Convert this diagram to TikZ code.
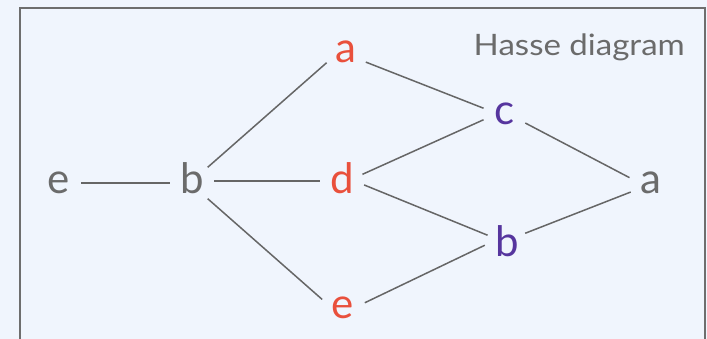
\documentclass[tikz,border=0pt]{standalone}
\usepackage{fontspec}
\setmainfont{Lato}
\newfontfamily\titlefont[FakeStretch=1.12]{Lato}
\definecolor{paper}{HTML}{F0F5FD}
\definecolor{framegray}{HTML}{6E6E6E}
\definecolor{linegray}{HTML}{666666}
\definecolor{txtgray}{HTML}{6B6B6B}
\definecolor{hred}{HTML}{E9503C}
\definecolor{hpurple}{HTML}{56359E}
\begin{document}
\begin{tikzpicture}[x=1pt,y=-1pt,
  elem/.style={circle, inner sep=0pt, minimum size=44pt,
    text height=22pt, text depth=0pt, font=\fontsize{42}{42}\selectfont},
  plain/.style={elem, text=txtgray},
  lower/.style={elem, text=hred},
  upper/.style={elem, text=hpurple},
  link/.style={draw=linegray, line width=1.5pt},
  frameline/.style={draw=framegray, line width=2pt}]
  % canvas
  \fill[paper] (0,0) rectangle (707,339);
  \useasboundingbox (0,0) rectangle (707,339);
  % open frame (its lower edge lies below the visible area)
  \coordinate (fbl) at (20,340);
  \coordinate (fbr) at (705,340);
  \draw[frameline] (fbl) -- (20,8) -- (705,8) -- (fbr);
  % title
  \node[anchor=base east, text=txtgray, font=\titlefont\fontsize{29.5}{30}\selectfont, inner sep=0pt]
    (title) at (685,56) {Hasse diagram};
  % elements
  \node[plain] (e1) at (59,183) {e};
  \node[plain] (b1) at (192,183) {b};
  \node[lower] (a1) at (346,52) {a};
  \node[lower] (d)  at (342,183) {d};
  \node[lower] (e2) at (343,307) {e};
  \node[upper] (c)  at (505,114) {c};
  \node[upper] (b2) at (507,246) {b};
  \node[plain] (a2) at (651,183) {a};
  % covering relations
  \draw[link] (e1.0) -- (b1.180);
  \draw[link] (b1.5) -- (d.175);
  \draw[link] (b1.45) -- (a1.209);
  \draw[link] (b1.-45) -- (e2.160);
  \draw[link] (a1.-27) -- (c.165);
  \draw[link] (d.23) -- (c.195);
  \draw[link] (d.-5) -- (b2.151);
  \draw[link] (e2.11) -- (b2.178);
  \draw[link] (c.-24) -- (a2.166);
  \draw[link] (b2.35) -- (a2.204);
\end{tikzpicture}
\end{document}
